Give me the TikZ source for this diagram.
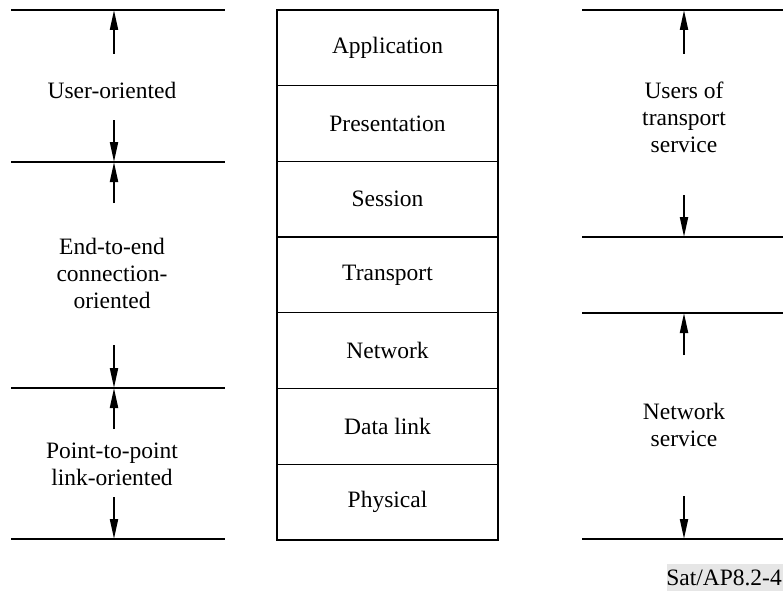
\documentclass[tikz,border=0pt]{standalone}
\usepackage{fontspec}
\setmainfont{Liberation Serif}
\usetikzlibrary{arrows.meta}
\definecolor{lblgray}{HTML}{E6E6E6}
\begin{document}
\begin{tikzpicture}[x=1pt,y=-1pt,
  hline/.style={line width=2pt},
  layer/.style={draw,line width=1.3pt,minimum width=221pt,minimum height=75.7pt,inner sep=0pt,font=\fontsize{23.5}{27}\selectfont},
  lbl/.style={align=center,font=\fontsize{23.5}{27}\selectfont,inner sep=0pt},
  arr/.style={line width=2pt,-{Triangle[length=20pt,width=8pt]}}]
\useasboundingbox (0,0) rectangle (783,591);
% left lines
\foreach \n/\y in {L1/10,L2/162,L3/388,L4/539}{
  \coordinate (\n a) at (11,\y); \coordinate (\n b) at (225,\y); \coordinate (\n m) at (114,\y);
  \draw[hline] (\n a) -- (\n b);}
% right lines
\foreach \n/\y in {R1/10,R2/237,R3/313,R4/539}{
  \coordinate (\n a) at (582,\y); \coordinate (\n b) at (783,\y); \coordinate (\n m) at (684,\y);
  \draw[hline] (\n a) -- (\n b);}
% layers
\foreach \i/\t in {0/Application,1/Presentation,2/Session,3/Transport,4/Network,5/Data link,6/Physical}{
  \node[layer] (lay\i) at (387.5,{10+75.7*(\i+0.5)}) {\t};}
% left labels
\node[lbl] (uo) at (112,90) {User-oriented};
\node[lbl] (ee) at (112,273) {End-to-end\\connection-\\oriented};
\node[lbl] (pp) at (112,464) {Point-to-point\\link-oriented};
% right labels
\node[lbl] (ut) at (684,117) {Users of\\transport\\service};
\node[lbl] (ns) at (684,425) {Network\\service};
% arrow tails
\coordinate (a1) at (114,54);
\coordinate (a2) at (114,120);
\coordinate (a3) at (114,203);
\coordinate (a4) at (114,345);
\coordinate (a5) at (114,429);
\coordinate (a6) at (114,497);
\coordinate (b1) at (684,54);
\coordinate (b2) at (684,195);
\coordinate (b3) at (684,355);
\coordinate (b4) at (684,496);
\draw[arr] (a1) -- (L1m);
\draw[arr] (a2) -- (L2m);
\draw[arr] (a3) -- (L2m);
\draw[arr] (a4) -- (L3m);
\draw[arr] (a5) -- (L3m);
\draw[arr] (a6) -- (L4m);
\draw[arr] (b1) -- (R1m);
\draw[arr] (b2) -- (R2m);
\draw[arr] (b3) -- (R3m);
\draw[arr] (b4) -- (R4m);
% figure label
\fill[lblgray] (667,564) rectangle (783,591);
\node[lbl,anchor=east] (fig) at (782,578) {Sat/AP8.2-4};
\end{tikzpicture}
\end{document}
